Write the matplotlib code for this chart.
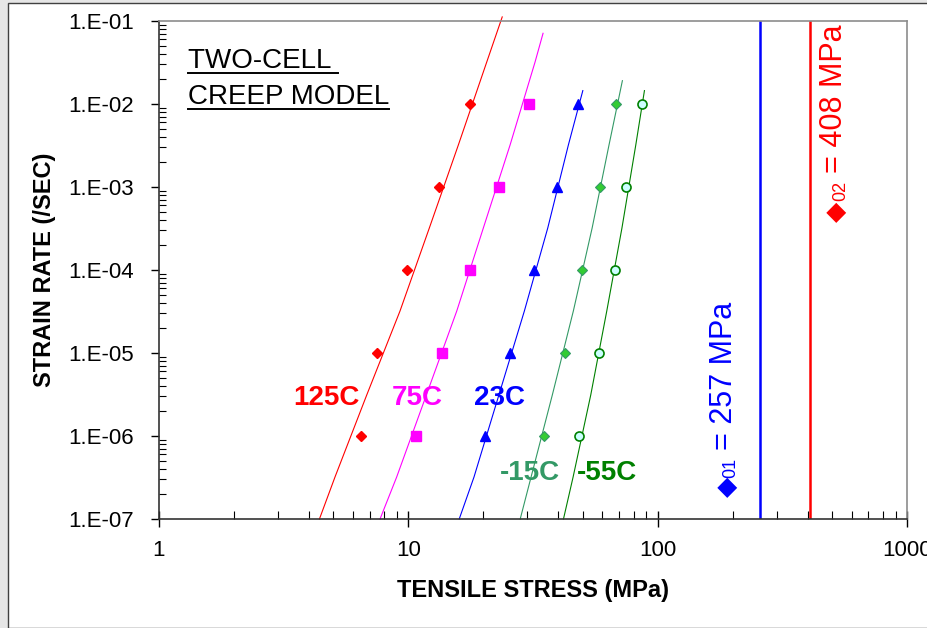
import numpy as np
import matplotlib
matplotlib.use('Agg')
import matplotlib.pyplot as plt
from matplotlib.patches import Rectangle
from matplotlib.ticker import FixedLocator, FuncFormatter, LogLocator, NullFormatter

plt.rcParams['font.family'] = ['Liberation Sans', 'DejaVu Sans']

# measured points (strain rate 1e-6 .. 1e-2)
rates = [1e-6, 1e-5, 1e-4, 1e-3, 1e-2]
s_125 = [6.46, 7.51, 9.85, 13.3, 17.7]
s_75 = [10.7, 13.7, 17.7, 23.0, 30.6]
s_23 = [20.3, 25.6, 31.9, 39.6, 48.1]
s_m15 = [34.9, 42.3, 49.7, 58.6, 68.1]
s_m55 = [48.5, 58.4, 67.5, 74.9, 86.8]

# two-cell model curves (stress, rate)
fit_125_s = [4.40, 5.08, 6.81, 9.26, 12.14, 15.87, 20.63, 23.8]
fit_125_r = [1e-7, 10**-6.494, 10**-5.506, 10**-4.494, 10**-3.494, 10**-2.494, 10**-1.494, 0.112]
fit_75_s = [7.70, 8.98, 15.64, 19.99, 25.59, 32.23, 34.7]
fit_75_r = [1e-7, 10**-6.494, 10**-4.494, 10**-3.494, 10**-2.494, 10**-1.494, 0.0711]
fit_23_s = [16.0, 18.34, 29.2, 36.24, 43.84, 50.1]
fit_23_r = [1e-7, 10**-6.494, 10**-4.494, 10**-3.494, 10**-2.494, 0.0145]
fit_m15_s = [28.1, 37.8, 45.9, 54.6, 63.8, 72.2]
fit_m15_r = [1e-7, 10**-5.506, 10**-4.494, 10**-3.494, 10**-2.494, 0.0191]
fit_m55_s = [41.9, 45.8, 53.9, 62.5, 71.9, 81.7, 88.5]
fit_m55_r = [1e-7, 10**-6.494, 10**-5.506, 10**-4.494, 10**-3.494, 10**-2.494, 0.0145]

sigma01 = 257
sigma02 = 408

fig = plt.figure(figsize=(9.28, 6.28), dpi=100)
fig.patch.set_facecolor('#e6e6e6')
fig.add_artist(Rectangle((8/928, 0), 1, 1 - 3/628, transform=fig.transFigure,
                         facecolor='white', edgecolor='#404040', lw=1.0, zorder=-10))
ax = fig.add_axes([159/928, 109/628, 748/928, 498/628])
ax.set_facecolor('none')
ax.set_xscale('log')
ax.set_yscale('log')
ax.set_xlim(1, 1000)
ax.set_ylim(1e-7, 1e-1)

lw = 0.8
ax.plot(fit_125_s, fit_125_r, color='red', lw=lw, clip_on=False)
ax.plot(fit_75_s, fit_75_r, color='#ff00ff', lw=lw, clip_on=False)
ax.plot(fit_23_s, fit_23_r, color='blue', lw=lw, clip_on=False)
ax.plot(fit_m15_s, fit_m15_r, color='#339966', lw=lw, clip_on=False)
ax.plot(fit_m55_s, fit_m55_r, color='#008000', lw=lw, clip_on=False)

ax.plot(s_125, rates, ls='none', marker='D', ms=5.3, color='red')
ax.plot(s_75, rates, ls='none', marker='s', ms=7.5, color='#ff00ff')
ax.plot(s_23, rates, ls='none', marker='^', ms=7.5, color='blue')
ax.plot(s_m15, rates, ls='none', marker='D', ms=4.6, mfc='#33cc33', mec='#339966', mew=0.8)
ax.plot(s_m55, rates, ls='none', marker='o', ms=6.5, mfc='#ccffff', mec='#008000', mew=1.2)

ax.axvline(sigma01, color='blue', lw=1.8)
ax.axvline(sigma02, color='red', lw=1.8)

# labels
ax.text(4.68, 2.87e-6, '125C', color='red', fontsize=20, fontweight='bold', ha='center', va='center')
ax.text(10.84, 2.87e-6, '75C', color='#ff00ff', fontsize=20, fontweight='bold', ha='center', va='center')
ax.text(23.3, 2.87e-6, '23C', color='blue', fontsize=20, fontweight='bold', ha='center', va='center')
ax.text(30.7, 3.58e-7, '-15C', color='#339966', fontsize=20, fontweight='bold', ha='center', va='center')
ax.text(62.5, 3.58e-7, '-55C', color='#008000', fontsize=20, fontweight='bold', ha='center', va='center')

# sigma labels: diamond + subscript + value (symbol font shown as diamond)
for xs, ys, sub, val, col, sub_off, main_off in [
        (190.7, 10**-6.735, '01', sigma01, 'blue', 14, 34),
        (524, 10**-3.422, '02', sigma02, 'red', 15, 35)]:
    ax.annotate('\u25c6', (xs, ys), xytext=(0, 0), textcoords='offset points',
                color=col, fontsize=19, rotation=90, ha='center', va='bottom')
    ax.annotate(sub, (xs, ys), xytext=(2.5, sub_off), textcoords='offset points',
                color=col, fontsize=13, rotation=90, ha='center', va='bottom')
    ax.annotate('= %d MPa' % val, (xs, ys), xytext=(-2.5, main_off), textcoords='offset points',
                color=col, fontsize=22, rotation=90, ha='center', va='bottom')

t1 = ax.text(0.0388, 0.9056, 'TWO-CELL ', transform=ax.transAxes, fontsize=20, va='baseline')
t2 = ax.text(0.0388, 0.8333, 'CREEP MODEL', transform=ax.transAxes, fontsize=20, va='baseline')

ax.set_xlabel('TENSILE STRESS (MPa)', fontsize=17, fontweight='bold', labelpad=13)
ax.set_ylabel('STRAIN RATE (/SEC)', fontsize=17, fontweight='bold', labelpad=9)

# ticks
ax.xaxis.set_major_locator(FixedLocator([1, 10, 100, 1000]))
ax.xaxis.set_major_formatter(FuncFormatter(lambda v, p: '%d' % round(v)))
ax.xaxis.set_minor_locator(LogLocator(base=10, subs=np.arange(2, 10)))
ax.xaxis.set_minor_formatter(NullFormatter())
ax.yaxis.set_major_locator(FixedLocator([1e-7, 1e-6, 1e-5, 1e-4, 1e-3, 1e-2, 1e-1]))
ax.yaxis.set_major_formatter(FuncFormatter(lambda v, p: '1.E%03d' % round(np.log10(v))))
ax.yaxis.set_minor_locator(LogLocator(base=10, subs=np.arange(2, 10)))
ax.yaxis.set_minor_formatter(NullFormatter())
ax.tick_params(axis='x', which='major', direction='inout', length=12, width=1, labelsize=16, pad=9)
ax.tick_params(axis='x', which='minor', direction='in', length=6, width=0.8)
ax.tick_params(axis='y', which='major', direction='out', length=6, width=1, labelsize=16, pad=12)
ax.tick_params(axis='y', which='minor', direction='in', length=5, width=0.8)

for side in ['left', 'bottom']:
    ax.spines[side].set_color('#333333')
    ax.spines[side].set_linewidth(1.2)
for side in ['top', 'right']:
    ax.spines[side].set_color('#8c8c8c')
    ax.spines[side].set_linewidth(1.2)

# underline the title text
fig.canvas.draw()
inv = ax.transAxes.inverted()
for t, off in [(t1, 5), (t2, 5)]:
    bb = t.get_window_extent()
    x0, _ = inv.transform((bb.x0, bb.y0))
    x1, _ = inv.transform((bb.x1, bb.y0))
    _, yb = inv.transform((0, ax.transAxes.transform((0, t.get_position()[1]))[1] - off))
    ax.plot([x0, x1], [yb, yb], transform=ax.transAxes, color='black', lw=1.4, clip_on=False)

fig.savefig('out.png', dpi=100, facecolor=fig.get_facecolor())
